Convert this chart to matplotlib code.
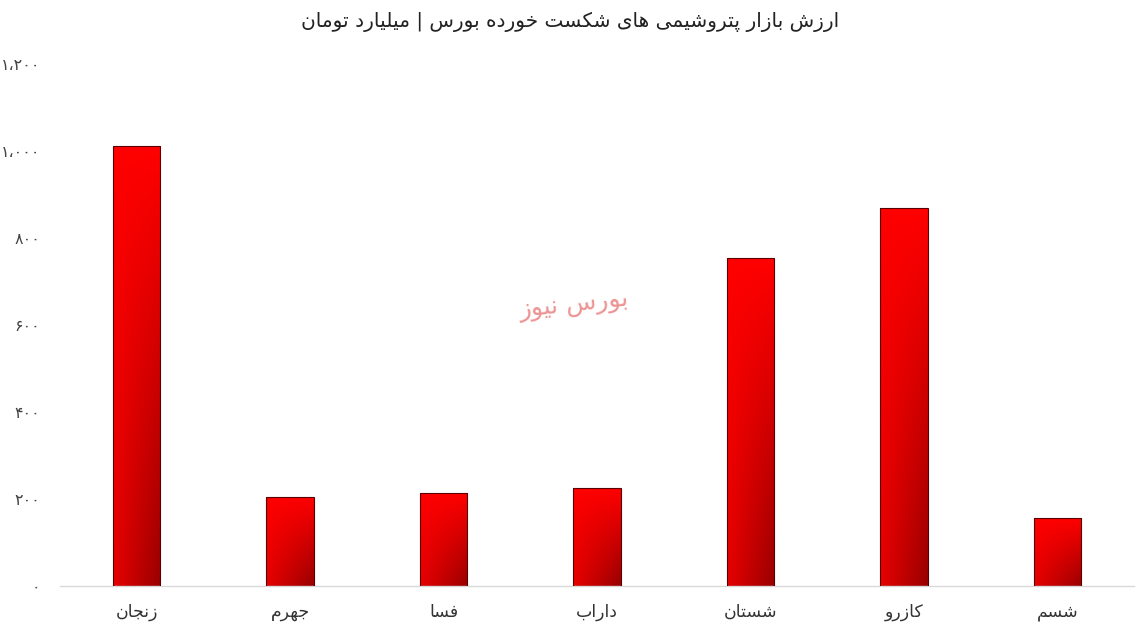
import matplotlib
matplotlib.use("Agg")
import matplotlib.pyplot as plt
import numpy as np
from matplotlib.patches import Rectangle

plt.rcParams["font.family"] = ["DejaVu Sans"]

TITLE = "ارزش بازار پتروشیمی های شکست خورده بورس | میلیارد تومان"
WATERMARK = "بورس نیوز"
categories = ["زنجان", "جهرم", "فسا", "داراب", "شستان", "کازرو", "شسم"]
values = [1011, 205, 214, 225, 754, 869, 156]
yticks = [0, 200, 400, 600, 800, 1000, 1200]

# presentation forms: isolated, final, initial, medial (None = right-joining only)
FORMS = {
    "ا": (0xFE8D, 0xFE8E, None, None),
    "ب": (0xFE8F, 0xFE90, 0xFE91, 0xFE92),
    "پ": (0xFB56, 0xFB57, 0xFB58, 0xFB59),
    "ت": (0xFE95, 0xFE96, 0xFE97, 0xFE98),
    "ج": (0xFE9D, 0xFE9E, 0xFE9F, 0xFEA0),
    "خ": (0xFEA5, 0xFEA6, 0xFEA7, 0xFEA8),
    "د": (0xFEA9, 0xFEAA, None, None),
    "ر": (0xFEAD, 0xFEAE, None, None),
    "ز": (0xFEAF, 0xFEB0, None, None),
    "س": (0xFEB1, 0xFEB2, 0xFEB3, 0xFEB4),
    "ش": (0xFEB5, 0xFEB6, 0xFEB7, 0xFEB8),
    "ف": (0xFED1, 0xFED2, 0xFED3, 0xFED4),
    "ک": (0xFB8E, 0xFB8F, 0xFB90, 0xFB91),
    "ل": (0xFEDD, 0xFEDE, 0xFEDF, 0xFEE0),
    "م": (0xFEE1, 0xFEE2, 0xFEE3, 0xFEE4),
    "ن": (0xFEE5, 0xFEE6, 0xFEE7, 0xFEE8),
    "ه": (0xFEE9, 0xFEEA, 0xFEEB, 0xFEEC),
    "و": (0xFEED, 0xFEEE, None, None),
    "ی": (0xFBFC, 0xFBFD, 0xFBFE, 0xFBFF),
}


def shape(text):
    # minimal Persian shaping + reversal for visual order
    out = []
    n = len(text)
    for i, ch in enumerate(text):
        if ch not in FORMS:
            out.append(ch)
            continue
        f = FORMS[ch]
        prev = text[i - 1] if i > 0 else ""
        nxt = text[i + 1] if i < n - 1 else ""
        join_prev = prev in FORMS and FORMS[prev][2] is not None
        join_next = nxt in FORMS and f[2] is not None
        if join_prev and join_next:
            code = f[3]
        elif join_prev:
            code = f[1]
        elif join_next:
            code = f[2]
        else:
            code = f[0]
        out.append(chr(code))
    return "".join(out)[::-1]


def fa_num(v):
    s = f"{v:,}".replace(",", "\u060c")
    return s.translate(str.maketrans("0123456789", "۰۱۲۳۴۵۶۷۸۹"))


fig = plt.figure(figsize=(11.41, 6.29), dpi=100)
ax = fig.add_axes([60 / 1141, 43 / 629, 1074 / 1141, 522 / 629])

x = np.arange(len(categories))
width = 0.31

# gradient: bright red top-left -> dark red bottom-right
h, w = 200, 40
u = np.linspace(0, 1, w)[None, :]
v = np.linspace(0, 1, h)[:, None]
t = np.clip(v * (0.25 + 0.75 * u), 0, 1)
bright = np.array([1.0, 0.0, 0.0])
dark = np.array([0.6, 0.0, 0.0])
grad = bright * (1 - t[..., None]) + dark * t[..., None]

for xi, val in zip(x, values):
    x0, x1 = xi - width / 2, xi + width / 2
    im = ax.imshow(grad, extent=[x0, x1, 0, val], origin="upper",
                   aspect="auto", zorder=2, interpolation="bilinear")
    rect = Rectangle((x0, 0), width, val, facecolor="none",
                     edgecolor="#5a0000", linewidth=0.8, zorder=3)
    ax.add_patch(rect)
    im.set_clip_path(rect)

ax.set_xlim(-0.5, len(categories) - 0.5)
ax.set_ylim(0, 1200)

ax.set_xticks(x)
ax.set_xticklabels([shape(c) for c in categories], fontsize=12.5, color="#333333")
ax.set_yticks(yticks)
ax.set_yticklabels([fa_num(v) for v in yticks], fontsize=11.5, color="#444444")
ax.tick_params(axis="both", length=0)
ax.tick_params(axis="x", pad=12)
ax.tick_params(axis="y", pad=14)

for s in ["top", "right", "left"]:
    ax.spines[s].set_visible(False)
ax.spines["bottom"].set_color("#d9d9d9")
ax.spines["bottom"].set_linewidth(1)

fig.text(0.5, 1 - 22 / 629, shape(TITLE), ha="center", va="center",
         fontsize=14.5, color="#222222")

ax.text(2.85, 645, shape(WATERMARK), ha="center", va="center", fontsize=18,
        color="#e87878", alpha=0.8, rotation=6, zorder=4)

fig.savefig("out.png", dpi=100)
